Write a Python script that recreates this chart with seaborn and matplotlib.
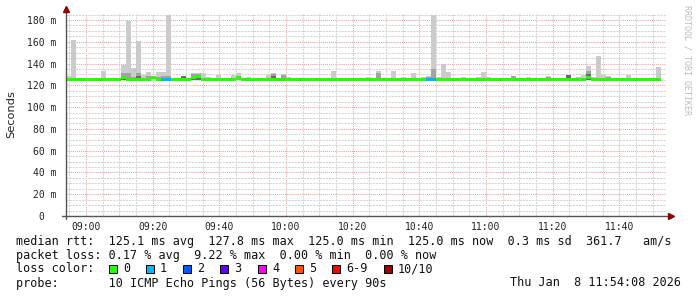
import numpy as np
import pandas as pd
import matplotlib
matplotlib.use("Agg")
import matplotlib.pyplot as plt
from matplotlib.patches import Rectangle
from matplotlib.ticker import FixedLocator, FixedFormatter
import seaborn as sns

# ---------------- data ----------------
start_time = "2026-01-08 08:54:00"
step_seconds = 90
n_slots = 120

smoke_min = 125.0  # ms, lowest ping

smoke_max = [
    128.5, 162.0, 125.0, 125.0, 125.0, 125.0, 125.0, 133.0, 125.0, 125.0,
    125.0, 138.6, 179.0, 135.6, 160.6, 129.4, 132.5, 129.0, 132.0, 132.0,
    184.5, 125.0, 125.0, 128.8, 125.0, 131.6, 131.6, 131.6, 127.5, 125.0,
    129.5, 125.0, 125.0, 129.5, 131.0, 125.0, 127.5, 125.0, 125.0, 125.0,
    129.5, 131.6, 125.0, 130.6, 127.5, 125.0, 125.0, 125.0, 125.0, 125.0,
    125.0, 125.0, 125.0, 133.4, 125.0, 125.0, 125.0, 125.0, 125.0, 125.0,
    127.5, 125.0, 133.0, 125.0, 125.0, 133.0, 125.0, 127.5, 125.0, 131.6,
    125.0, 127.5, 128.8, 184.5, 127.5, 139.5, 132.4, 125.0, 125.0, 127.5,
    125.0, 125.0, 127.5, 132.4, 127.5, 125.0, 125.0, 125.0, 125.0, 128.8,
    125.0, 125.0, 127.5, 125.0, 125.0, 125.0, 128.8, 125.0, 125.0, 125.0,
    129.5, 125.0, 127.5, 129.5, 137.7, 127.5, 146.9, 129.5, 128.3, 125.0,
    125.0, 125.0, 129.5, 125.0, 125.0, 125.0, 125.0, 125.0, 136.5, 125.0,
]

smoke_mid = [
    125.0, 125.0, 125.0, 125.0, 125.0, 125.0, 125.0, 125.0, 125.0, 125.0,
    125.0, 131.6, 131.6, 128.0, 131.0, 125.0, 128.5, 125.0, 127.5, 128.5,
    129.0, 125.0, 125.0, 128.8, 125.0, 130.5, 130.5, 125.0, 125.0, 125.0,
    125.0, 125.0, 125.0, 125.0, 127.5, 125.0, 125.0, 125.0, 125.0, 125.0,
    125.0, 130.0, 125.0, 129.5, 125.0, 125.0, 125.0, 125.0, 125.0, 125.0,
    125.0, 125.0, 125.0, 125.0, 125.0, 125.0, 125.0, 125.0, 125.0, 125.0,
    125.0, 125.0, 131.0, 125.0, 125.0, 125.0, 125.0, 125.0, 125.0, 125.0,
    125.0, 125.0, 127.5, 135.0, 125.0, 125.0, 125.0, 125.0, 125.0, 125.0,
    125.0, 125.0, 125.0, 125.0, 125.0, 125.0, 125.0, 125.0, 125.0, 128.8,
    125.0, 125.0, 125.0, 125.0, 125.0, 125.0, 128.0, 125.0, 125.0, 125.0,
    129.5, 125.0, 125.0, 125.0, 133.0, 125.0, 125.0, 125.0, 127.5, 125.0,
    125.0, 125.0, 125.0, 125.0, 125.0, 125.0, 125.0, 125.0, 125.0, 125.0,
]

smoke_core = [
    125.0, 125.0, 125.0, 125.0, 125.0, 125.0, 125.0, 125.0, 125.0, 125.0,
    125.0, 128.0, 125.0, 125.0, 128.5, 125.0, 125.0, 125.0, 125.0, 125.0,
    125.0, 125.0, 125.0, 128.8, 125.0, 128.5, 129.0, 125.0, 125.0, 125.0,
    125.0, 125.0, 125.0, 125.0, 125.0, 125.0, 125.0, 125.0, 125.0, 125.0,
    125.0, 129.0, 125.0, 125.0, 125.0, 125.0, 125.0, 125.0, 125.0, 125.0,
    125.0, 125.0, 125.0, 125.0, 125.0, 125.0, 125.0, 125.0, 125.0, 125.0,
    125.0, 125.0, 125.0, 125.0, 125.0, 125.0, 125.0, 125.0, 125.0, 125.0,
    125.0, 125.0, 125.0, 125.0, 125.0, 125.0, 125.0, 125.0, 125.0, 125.0,
    125.0, 125.0, 125.0, 125.0, 125.0, 125.0, 125.0, 125.0, 125.0, 125.0,
    125.0, 125.0, 125.0, 125.0, 125.0, 125.0, 125.0, 125.0, 125.0, 125.0,
    129.5, 125.0, 125.0, 125.0, 130.0, 125.0, 125.0, 125.0, 125.0, 125.0,
    125.0, 125.0, 125.0, 125.0, 125.0, 125.0, 125.0, 125.0, 125.0, 125.0,
]

median_rtt = [
    125.0, 125.0, 125.0, 125.0, 125.0, 125.0, 125.0, 125.0, 125.0, 125.0,
    125.0, 127.0, 125.0, 125.0, 125.0, 125.0, 125.0, 127.0, 125.0, 125.0,
    125.0, 125.0, 125.0, 125.0, 125.0, 127.5, 127.8, 125.0, 125.0, 125.0,
    125.0, 125.0, 125.0, 125.0, 127.0, 125.0, 125.0, 125.0, 125.0, 125.0,
    125.0, 125.0, 125.0, 125.0, 125.0, 125.0, 125.0, 125.0, 125.0, 125.0,
    125.0, 125.0, 125.0, 125.0, 125.0, 125.0, 125.0, 125.0, 125.0, 125.0,
    125.0, 125.0, 125.0, 125.0, 125.0, 125.0, 125.0, 125.0, 125.0, 125.0,
    125.0, 125.0, 125.0, 125.0, 125.0, 125.0, 125.0, 125.0, 125.0, 125.0,
    125.0, 125.0, 125.0, 125.0, 125.0, 125.0, 125.0, 125.0, 125.0, 125.0,
    125.0, 125.0, 125.0, 125.0, 125.0, 125.0, 125.0, 125.0, 125.0, 125.0,
    125.0, 125.0, 125.0, 125.0, 127.3, 125.0, 125.0, 125.0, 125.0, 125.0,
    125.0, 125.0, 125.0, 125.0, 125.0, 125.0, 125.0, 125.0, 125.0, np.nan,
]

loss_count = [
    0, 0, 0, 0, 0, 0, 0, 0, 0, 0,
    0, 0, 0, 0, 0, 0, 0, 0, 0, 1,
    1, 0, 0, 0, 0, 0, 0, 0, 0, 0,
    0, 0, 0, 0, 0, 0, 0, 0, 0, 0,
    0, 0, 0, 0, 0, 0, 0, 0, 0, 0,
    0, 0, 0, 0, 0, 0, 0, 0, 0, 0,
    0, 0, 0, 0, 0, 0, 0, 0, 0, 0,
    0, 0, 1, 1, 0, 0, 0, 0, 0, 0,
    0, 0, 0, 0, 0, 0, 0, 0, 0, 0,
    0, 0, 0, 0, 0, 0, 0, 0, 0, 0,
    0, 0, 0, 0, 0, 0, 0, 0, 0, 0,
    0, 0, 0, 0, 0, 0, 0, 0, 0, 0,
]

y_major_ticks = [0, 20, 40, 60, 80, 100, 120, 140, 160, 180]
y_tick_labels = ["0  ", "20 m", "40 m", "60 m", "80 m", "100 m",
                 "120 m", "140 m", "160 m", "180 m"]
x_tick_labels = ["09:00", "09:20", "09:40", "10:00", "10:20", "10:40",
                 "11:00", "11:20", "11:40"]

loss_levels = ["0", "1", "2", "3", "4", "5", "6-9", "10/10"]
loss_colors = ["#26ff00", "#00b8ff", "#0059ff", "#5e00ff",
               "#ff00ff", "#ff5500", "#ff0000", "#a10000"]

legend_line1 = ("median rtt:  125.1 ms avg  127.8 ms max  125.0 ms min  "
                "125.0 ms now  0.3 ms sd  361.7   am/s")
legend_line2 = "packet loss: 0.17 % avg  9.22 % max  0.00 % min  0.00 % now"
legend_line3 = "loss color:"
legend_line4 = "probe:       10 ICMP Echo Pings (56 Bytes) every 90s"
legend_date = "Thu Jan  8 11:54:08 2026"
watermark = "RRDTOOL / TOBI OETIKER"

# ---------------- figure ----------------
sns.set_style("white")
plt.rcParams["font.family"] = ["DejaVu Sans Mono", "DejaVu Sans"]

W, H = 697, 297
fig = plt.figure(figsize=(W / 100, H / 100), dpi=100)
fig.patch.set_facecolor("white")
ax = fig.add_axes([66 / W, (H - 216) / H, 600 / W, 202 / H])
ax.set_facecolor("white")

t0 = pd.Timestamp(start_time)
times = pd.date_range(t0, periods=n_slots, freq=f"{step_seconds}s")
minutes = np.asarray((times - t0).total_seconds() / 60.0)
centers = minutes + step_seconds / 120.0

df = pd.DataFrame({
    "t": centers,
    "max": smoke_max,
    "mid": smoke_mid,
    "core": smoke_core,
    "median": median_rtt,
    "loss": loss_count,
})

# smoke layers
for col, color in [("max", "#cbcbcb"), ("mid", "#a2a2a2"), ("core", "#6a6a6a")]:
    d = df.assign(h=df[col] - smoke_min)
    sns.barplot(data=d, x="t", y="h", native_scale=True, width=1.0,
                color=color, saturation=1, errorbar=None, linewidth=0,
                edgecolor="none", bottom=np.full(len(d), smoke_min), ax=ax)

# median line coloured by loss
thick = 2.6
dm = df.dropna(subset=["median"])
for lvl in sorted(dm["loss"].unique()):
    sub = dm[dm["loss"] == lvl].assign(h=thick)
    sns.barplot(data=sub, x="t", y="h", native_scale=True, width=1.0,
                color=loss_colors[int(lvl)], saturation=1, errorbar=None,
                linewidth=0, edgecolor="none",
                bottom=(sub["median"] - thick / 2).to_numpy(), ax=ax)

ax.set_xlim(0, 180)
ax.set_ylim(0, 185.5)
ax.set_xlabel("")
ax.set_ylabel("")

# ticks & grid
x_major = [6 + 20 * k for k in range(len(x_tick_labels))]
x_minor = [m for m in range(1, 180, 5) if m not in x_major]
y_minor = [v for v in range(5, 186, 5) if v not in y_major_ticks]
ax.xaxis.set_major_locator(FixedLocator(x_major))
ax.xaxis.set_major_formatter(FixedFormatter(x_tick_labels))
ax.xaxis.set_minor_locator(FixedLocator(x_minor))
ax.yaxis.set_major_locator(FixedLocator(y_major_ticks))
ax.yaxis.set_major_formatter(FixedFormatter(y_tick_labels))
ax.yaxis.set_minor_locator(FixedLocator(y_minor))

ax.set_axisbelow(True)
ax.grid(True, which="minor", color="#d4d4d4", linestyle=(0, (2, 1)), linewidth=0.75)
ax.grid(True, which="major", color="#eba3a3", linestyle=(0, (1, 1)), linewidth=0.75)

ax.tick_params(axis="both", which="both", direction="out", color="#555555",
               width=0.7, labelsize=7, labelcolor="#222222")
ax.tick_params(axis="both", which="major", length=2.5)
ax.tick_params(axis="both", which="minor", length=1.5)
ax.tick_params(axis="y", which="major", pad=4.5)
ax.tick_params(axis="x", which="major", pad=1.5)

for s in ax.spines.values():
    s.set_visible(False)

# axis lines with arrows
ax.plot([0, 0], [-0.015, 1.02], transform=ax.transAxes, color="#555555",
        lw=1.0, clip_on=False, zorder=5)
ax.plot([-0.007, 1.008], [0, 0], transform=ax.transAxes, color="#555555",
        lw=1.0, clip_on=False, zorder=5)
ax.plot([0], [1.025], marker="^", ms=4.5, color="#8b0000", mec="#8b0000",
        transform=ax.transAxes, clip_on=False, zorder=6)
ax.plot([1.008], [0], marker=">", ms=4.5, color="#8b0000", mec="#8b0000",
        transform=ax.transAxes, clip_on=False, zorder=6)


def fx(x):
    return x / W


def fy(y):
    return 1 - y / H


# y label and watermark
fig.text(fx(11), fy(114), "Seconds", rotation=90, ha="center", va="center",
         fontsize=8.2, family="DejaVu Sans", color="#222222")
fig.text(fx(687), fy(5), watermark, rotation=270, ha="center", va="top",
         fontsize=6, color="#bcbcbc")

# legend text
lfs = 8.5
fig.text(fx(16), fy(241), legend_line1, ha="left", va="center", fontsize=lfs, color="#111111")
fig.text(fx(16), fy(255), legend_line2, ha="left", va="center", fontsize=lfs, color="#111111")
fig.text(fx(16), fy(269), legend_line3, ha="left", va="center", fontsize=lfs, color="#111111")
fig.text(fx(16), fy(283), legend_line4, ha="left", va="center", fontsize=lfs, color="#111111")
fig.text(fx(681), fy(283), legend_date, ha="right", va="center", fontsize=lfs, color="#111111")

box_x = [109, 146, 183, 220, 258, 295, 332, 384]
for bx, lab, colr in zip(box_x, loss_levels, loss_colors):
    fig.add_artist(Rectangle((fx(bx), fy(273)), 8 / W, 8 / H,
                             transform=fig.transFigure, facecolor=colr,
                             edgecolor="black", linewidth=0.7))
    fig.text(fx(bx + 14), fy(269), lab, ha="left", va="center",
             fontsize=lfs, color="#111111")

fig.savefig("out.png", dpi=100, facecolor="white")
